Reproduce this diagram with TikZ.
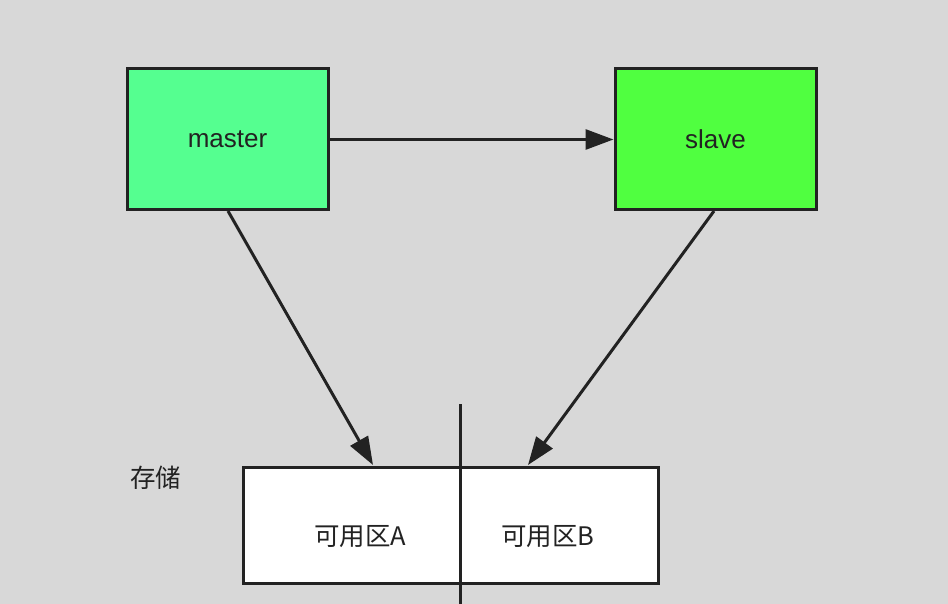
\documentclass[tikz,border=0pt]{standalone}
\usepackage{fontspec}
\setmainfont{Liberation Sans}
\newfontfamily\cjk{Noto Sans CJK SC}
\usetikzlibrary{arrows.meta}
\definecolor{bgc}{HTML}{D8D8D8}
\definecolor{masterc}{HTML}{55FF90}
\definecolor{slavec}{HTML}{50FF40}
\definecolor{linec}{HTML}{222222}
\tikzset{
  roundbox/.style={draw=linec, line width=3pt, minimum width=201pt, minimum height=141pt, inner sep=0pt, font=\fontsize{26}{30}\selectfont, text=linec},
  conn/.style={draw=linec, line width=3pt, -{Triangle[length=28pt,width=20pt]}},
  lbl/.style={font=\cjk\fontsize{25.5}{30}\selectfont, text=linec, inner sep=0pt}
}
\begin{document}
\begin{tikzpicture}[x=1pt,y=-1pt]
\useasboundingbox[fill=bgc] (0,0) rectangle (948,604);
\node[roundbox, fill=masterc] (master) at (227.5,139.5) {master};
\node[roundbox, fill=slavec] (slave) at (715.5,139.5) {slave};
\node[draw=linec, line width=3pt, fill=white, minimum width=415pt, minimum height=116pt, inner sep=0pt] (store) at (450.5,525) {};
\coordinate (divtop) at (460,404);
\coordinate (divbot) at (460,604);
\draw[draw=linec, line width=3pt] (divtop) -- (divbot);
\coordinate (ta) at (373,465);
\coordinate (tb) at (528,465);
\draw[conn] (master.east) -- (slave.west);
\draw[conn] (228,211) -- (ta);
\draw[conn] (714,211) -- (tb);
\node[lbl] (cunchu) at (155.5,478) {存储};
\node[lbl] (zoneA) at (360,537) {可用区A};
\node[lbl] (zoneB) at (548,537) {可用区B};
\end{tikzpicture}
\end{document}
